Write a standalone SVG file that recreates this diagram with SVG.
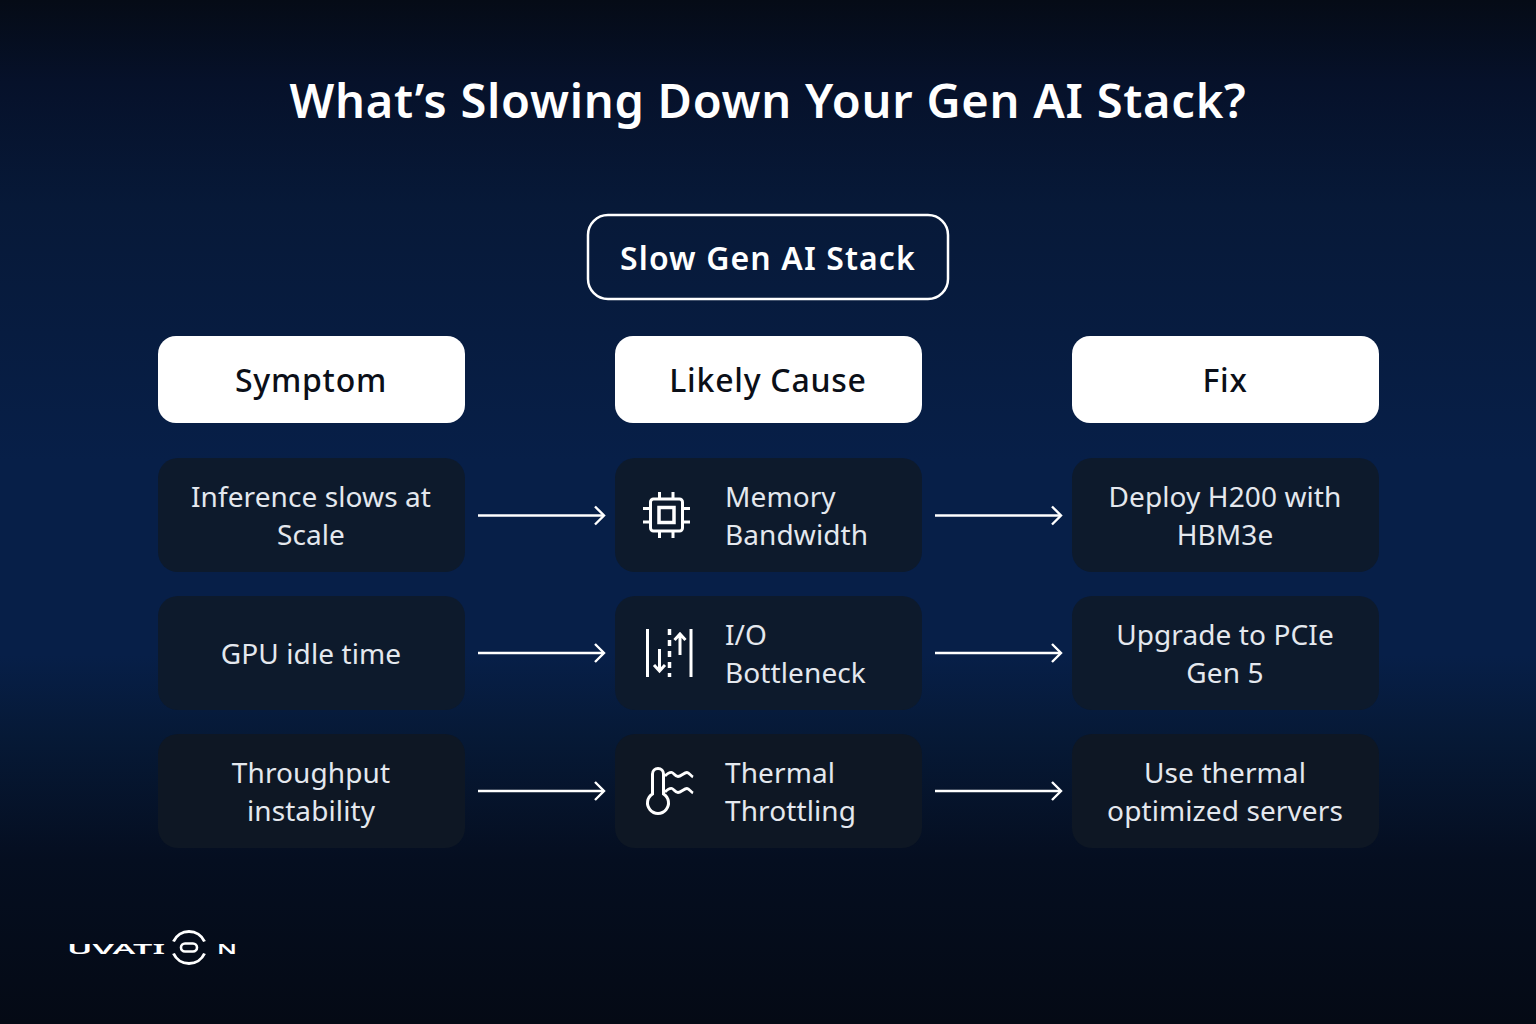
<svg xmlns="http://www.w3.org/2000/svg" width="1536" height="1024" viewBox="0 0 1536 1024">
<defs>
<linearGradient id="bg" x1="0" y1="0" x2="0" y2="1">
<stop offset="0" stop-color="#050b16"/><stop offset="0.08" stop-color="#06112a"/><stop offset="0.2" stop-color="#071938"/><stop offset="0.45" stop-color="#071f48"/><stop offset="0.64" stop-color="#071f48"/><stop offset="0.72" stop-color="#061936"/><stop offset="0.84" stop-color="#050e20"/><stop offset="1" stop-color="#050a15"/>
</linearGradient>
<marker id="arrow" markerUnits="userSpaceOnUse" markerWidth="14" markerHeight="22" refX="11" refY="11" orient="auto">
<path d="M2 2 L11 11 L2 20" fill="none" stroke="#fff" stroke-width="2.4"/>
</marker>
</defs>
<style>
text{font-family:"Noto Sans","Open Sans",sans-serif;text-anchor:middle}
.title{font-size:47px;font-weight:600;fill:#fff;letter-spacing:.75px}
.root{font-size:32px;font-weight:600;fill:#fff;letter-spacing:1.1px}
.head{font-size:32px;font-weight:500;fill:#0b0f18;letter-spacing:.75px}
.cell{font-size:28px;fill:#e4e8ee;letter-spacing:.1px}
.left{text-anchor:start}
.h{fill:#fff}
.c{fill:#0d1a2c}
.d{fill:#0e1724}
.i{fill:none;stroke:#fff;stroke-width:3}
.a{fill:none;stroke:#fff;stroke-width:2.4;marker-end:url(#arrow)}
.logo{font-size:15px;font-weight:600;fill:#fff;text-anchor:start}
</style>
<rect width="1536" height="1024" fill="url(#bg)"/>
<text id="title" class="title" x="768" y="118">What’s Slowing Down Your Gen AI Stack?</text>
<g id="root"><rect x="588" y="215" width="360" height="84" rx="20" fill="none" stroke="#fff" stroke-width="2.500"/><text class="root" x="768" y="270">Slow Gen AI Stack</text></g>
<g id="head-symptom"><rect class="h" x="158" y="336" width="307" height="87" rx="18"/><text class="head" x="311" y="392">Symptom</text></g>
<g id="head-cause"><rect class="h" x="615" y="336" width="307" height="87" rx="18"/><text class="head" x="768" y="392">Likely Cause</text></g>
<g id="head-fix"><rect class="h" x="1072" y="336" width="307" height="87" rx="18"/><text class="head" x="1225" y="392">Fix</text></g>

<g id="s1"><rect class="c" x="158" y="458" width="307" height="114" rx="20"/><text class="cell" x="311" y="507">Inference slows at</text><text class="cell" x="311" y="545">Scale</text></g>
<g id="s2"><rect class="c" x="158" y="596" width="307" height="114" rx="20"/><text class="cell" x="311" y="664">GPU idle time</text></g>
<g id="s3"><rect class="d" x="158" y="734" width="307" height="114" rx="20"/><text class="cell" x="311" y="783">Throughput</text><text class="cell" x="311" y="821">instability</text></g>

<g id="c1"><rect class="c" x="615" y="458" width="307" height="114" rx="20"/>
<g class="i"><rect x="650.500" y="499" width="32" height="32" rx="3"/><rect x="659" y="507.500" width="15" height="15" stroke-width="3.500"/><path d="M659.500 492V499M673 492V499M659.500 531V538M673 531V538M643 508.500H650.500M643 522H650.500M682.500 508.500H690M682.500 522H690"/></g>
<text class="cell left" x="725" y="507">Memory</text><text class="cell left" x="725" y="545">Bandwidth</text></g>
<g id="c2"><rect class="c" x="615" y="596" width="307" height="114" rx="20"/>
<g class="i"><path d="M647.500 629V677M691 629V677"/><path d="M669.500 629V677" stroke-dasharray="6 5" stroke-width="3.500"/><path d="M659.500 649V671M654 665L659.500 671L665 665M680 655V634M674.500 640L680 634L685.500 640"/></g>
<text class="cell left" x="725" y="645">I/O</text><text class="cell left" x="725" y="683">Bottleneck</text></g>
<g id="c3"><rect class="d" x="615" y="734" width="307" height="114" rx="20"/>
<g class="i"><path d="M652.500 794V774a5.500 5.500 0 0 1 11 0V794a10.500 10.500 0 1 1 -11 0Z"/><path d="M665 776C668 773 670 772 672 772.500C674 773 675 776.500 678 776.500C681 776.500 684 772.500 687 772.500C689 772.500 691 776 693 777M665 792C668 789 670 788 672 788.500C674 789 675 792.500 678 792.500C681 792.500 684 788.500 687 788.500C689 788.500 691 792 693 793" stroke-width="2.800"/></g>
<text class="cell left" x="725" y="783">Thermal</text><text class="cell left" x="725" y="821">Throttling</text></g>

<g id="f1"><rect class="c" x="1072" y="458" width="307" height="114" rx="20"/><text class="cell" x="1225" y="507">Deploy H200 with</text><text class="cell" x="1225" y="545">HBM3e</text></g>
<g id="f2"><rect class="c" x="1072" y="596" width="307" height="114" rx="20"/><text class="cell" x="1225" y="645">Upgrade to PCIe</text><text class="cell" x="1225" y="683">Gen 5</text></g>
<g id="f3"><rect class="d" x="1072" y="734" width="307" height="114" rx="20"/><text class="cell" x="1225" y="783">Use thermal</text><text class="cell" x="1225" y="821">optimized servers</text></g>

<g id="connectors">
<path class="a" d="M478 515.500H604"/><path class="a" d="M935 515.500H1061"/>
<path class="a" d="M478 653H604"/><path class="a" d="M935 653H1061"/>
<path class="a" d="M478 791H604"/><path class="a" d="M935 791H1061"/>
</g>
<g id="logo"><text class="logo" x="67" y="953.500" textLength="98" lengthAdjust="spacingAndGlyphs">UVATI</text><text class="logo" x="217" y="953.500" textLength="20" lengthAdjust="spacingAndGlyphs">N</text>
<path d="M173.500 941.500a17 17 0 0 1 31 0M173.500 953.500a17 17 0 0 0 31 0" fill="none" stroke="#fff" stroke-width="3"/><rect x="181" y="943.500" width="16" height="8" rx="4" fill="none" stroke="#fff" stroke-width="2.600"/></g>
</svg>
